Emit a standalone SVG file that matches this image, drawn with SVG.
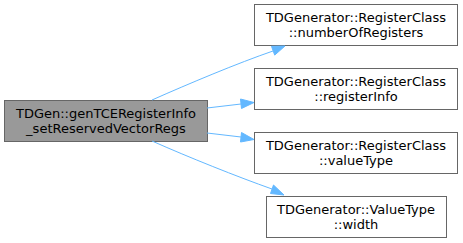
<svg xmlns="http://www.w3.org/2000/svg" width="463" height="243" viewBox="0 0 463 243">
  <style>
    .node rect { fill: #ffffff; stroke: #666666; stroke-width: 1; }
    .node.main rect { fill: #999999; }
    text { font-family: "DejaVu Sans", sans-serif; font-size: 13px; fill: #000000; text-anchor: middle; }
    .edge path { fill: none; stroke: #63b8ff; stroke-width: 1; }
    .edge polygon { fill: #63b8ff; stroke: #63b8ff; stroke-width: 1; }
  </style>

  <g id="node-main" class="node main">
    <rect x="4.5" y="100.5" width="203" height="41"/>
    <text x="106" y="118">TDGen::genTCERegisterInfo</text>
    <text x="106" y="133">_setReservedVectorRegs</text>
  </g>

  <g id="node-numberOfRegisters" class="node">
    <rect x="254.5" y="4.5" width="203" height="41"/>
    <text x="356" y="21.5">TDGenerator::RegisterClass</text>
    <text x="356" y="36.5">::numberOfRegisters</text>
  </g>

  <g id="node-registerInfo" class="node">
    <rect x="254.5" y="68.5" width="203" height="41"/>
    <text x="356" y="85.5">TDGenerator::RegisterClass</text>
    <text x="356" y="100.5">::registerInfo</text>
  </g>

  <g id="node-valueType" class="node">
    <rect x="254.5" y="132.5" width="203" height="41"/>
    <text x="356" y="149.5">TDGenerator::RegisterClass</text>
    <text x="356" y="164.5">::valueType</text>
  </g>

  <g id="node-width" class="node">
    <rect x="266.5" y="196.5" width="180" height="41"/>
    <text x="356" y="213.5">TDGenerator::ValueType</text>
    <text x="356" y="228.5">::width</text>
  </g>

  <g id="edges" class="edge">
    <path d="M152,100 C188,84 238,63 273,51"/>
    <polygon points="271.5,46.3 285,46 274.7,55.1"/>
    <path d="M207,108 L241,104"/>
    <polygon points="240.5,99 254,102.5 241.5,108.5"/>
    <path d="M207,133 L241,137"/>
    <polygon points="241.5,132.5 254,139.5 240.5,142"/>
    <path d="M152,141 C188,157 238,177 272,189"/>
    <polygon points="270.5,193.5 284,195 273.5,185"/>
  </g>
</svg>
